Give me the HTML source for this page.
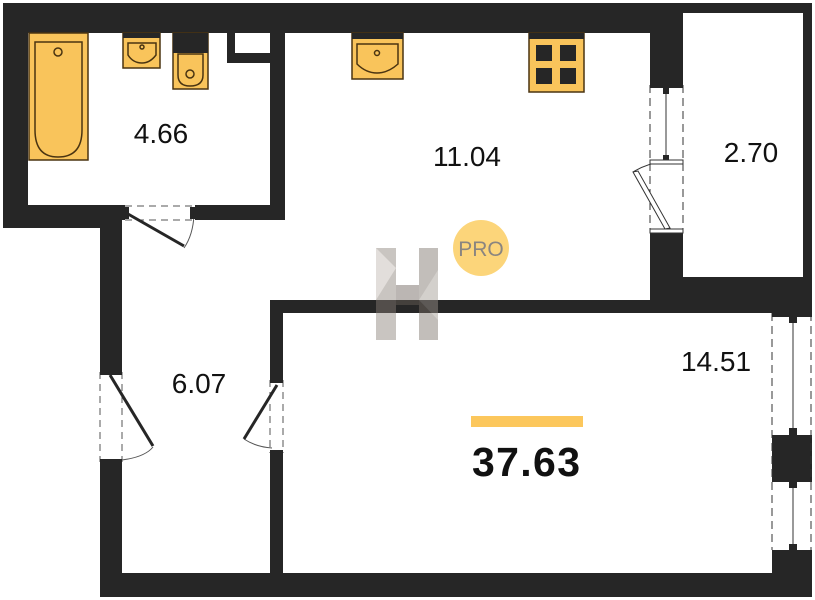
<!DOCTYPE html>
<html><head><meta charset="utf-8"><style>html,body{margin:0;padding:0;background:#fff}svg{display:block}</style></head>
<body>
<svg width="815" height="600" viewBox="0 0 815 600" xmlns="http://www.w3.org/2000/svg" font-family="Liberation Sans, sans-serif">
<rect width="815" height="600" fill="#fff"/>
<g fill="#262626">
<rect x="3" y="3" width="680" height="30"/>
<rect x="3" y="3" width="25" height="225"/>
<rect x="3" y="205" width="119" height="23"/>
<rect x="3" y="205" width="122" height="15"/>
<rect x="195" y="205" width="90" height="15"/>
<rect x="270" y="3" width="15" height="217"/>
<rect x="227" y="33" width="8" height="30"/>
<rect x="227" y="53" width="45" height="10"/>
<rect x="100" y="205" width="22" height="167"/>
<rect x="100" y="462" width="22" height="135"/>
<rect x="650" y="3" width="33" height="82"/>
<rect x="650" y="230" width="33" height="83"/>
<rect x="650" y="3" width="162" height="10"/>
<rect x="803" y="3" width="9" height="307"/>
<rect x="650" y="277" width="162" height="36"/>
<rect x="270" y="300" width="542" height="13"/>
<rect x="270" y="300" width="13" height="80"/>
<rect x="270" y="453" width="13" height="144"/>
<rect x="100" y="573" width="712" height="24"/>
<rect x="772" y="435" width="40" height="47"/>
<rect x="772" y="550" width="40" height="47"/>
</g>
<g stroke="#333" fill="none">
<line x1="772" y1="313" x2="772" y2="550" stroke-dasharray="8,5"/>
<line x1="811" y1="313" x2="811" y2="550" stroke-dasharray="8,5"/>
<line x1="793" y1="318" x2="793" y2="432"/>
<line x1="793" y1="485" x2="793" y2="546"/>
</g>
<g fill="#262626">
<rect x="772" y="313" width="40" height="4"/><rect x="789" y="317" width="8" height="6"/>
<rect x="789" y="428" width="8" height="7"/>
<rect x="789" y="482" width="8" height="6"/>
<rect x="789" y="544" width="8" height="6"/>
</g>
<g stroke="#333" fill="none">
<line x1="650" y1="85" x2="650" y2="230" stroke-dasharray="8,5"/>
<line x1="683" y1="85" x2="683" y2="230" stroke-dasharray="8,5"/>
<line x1="666" y1="90" x2="666" y2="157"/>
<path d="M633 172 Q648 163 662 162"/>
<path d="M633 172 L665 229 L670 228 L638 171 Z" fill="#fff"/>
</g>
<g fill="#262626">
<rect x="650" y="84" width="33" height="4"/><rect x="663" y="88" width="6" height="6"/>
<rect x="663" y="155" width="6" height="5"/>
<rect x="650" y="160" width="33" height="4" fill="#fff" stroke="#333"/>
<rect x="650" y="229" width="33" height="4" fill="#fff" stroke="#333"/>
</g>
<g stroke="#555" fill="none">
<line x1="125" y1="206" x2="195" y2="206" stroke-dasharray="7,5"/>
<line x1="125" y1="220" x2="195" y2="220" stroke-dasharray="7,5"/>
<path d="M184 248 Q193 235 194 215"/>
</g>
<line x1="128" y1="214" x2="184" y2="246" stroke="#262626" stroke-width="3"/>
<rect x="124" y="207" width="5" height="12" fill="#262626"/>
<rect x="190" y="207" width="5" height="12" fill="#262626"/>
<g stroke="#555" fill="none">
<line x1="100" y1="372" x2="100" y2="462" stroke-dasharray="7,5"/>
<line x1="122" y1="372" x2="122" y2="462" stroke-dasharray="7,5"/>
<path d="M122 460 Q145 457 153 447"/>
</g>
<line x1="110" y1="375" x2="153" y2="446" stroke="#262626" stroke-width="3"/>
<rect x="100" y="370" width="22" height="5" fill="#262626"/>
<rect x="100" y="459" width="22" height="5" fill="#262626"/>
<g stroke="#555" fill="none">
<line x1="270" y1="380" x2="270" y2="453" stroke-dasharray="7,5"/>
<line x1="283" y1="380" x2="283" y2="453" stroke-dasharray="7,5"/>
<path d="M244 439 Q256 447 272 448"/>
</g>
<line x1="277" y1="385" x2="244" y2="439" stroke="#262626" stroke-width="3"/>
<rect x="270" y="378" width="13" height="5" fill="#262626"/>
<rect x="270" y="450" width="13" height="5" fill="#262626"/>
<g stroke="#4a3411" stroke-width="1.5">
<rect x="29" y="33" width="59" height="127" fill="#f9c45b"/>
<path d="M35 42 H82 V130 Q82 157 58 157 Q35 157 35 130 Z" fill="#f9c45b"/>
<circle cx="58" cy="52" r="4" fill="none"/>
<rect x="123" y="33" width="37" height="35" fill="#f9c45b"/>
<path d="M128 43 H156 V55 Q150 63 142 63 Q133 63 128 55 Z" fill="none"/>
<circle cx="142" cy="47" r="2" fill="none"/>
<rect x="173" y="33" width="35" height="56" fill="#f9c45b"/>
<path d="M178 54 H203 V75 Q203 86 190 86 Q178 86 178 75 Z" fill="none"/>
<circle cx="190" cy="74" r="4" fill="none"/>
<rect x="352" y="33" width="51" height="46" fill="#f9c45b"/>
<path d="M357 44 H398 V64 Q388 73 377 73 Q366 73 357 64 Z" fill="none"/>
<circle cx="377" cy="53" r="2.5" fill="none"/>
<rect x="529" y="33" width="55" height="59" fill="#f9c45b"/>
</g>
<g fill="#262626">
<rect x="123" y="33" width="37" height="5"/>
<rect x="173" y="33" width="35" height="20"/>
<rect x="352" y="33" width="51" height="6"/>
<rect x="529" y="33" width="55" height="6"/>
<rect x="536" y="45" width="16" height="16"/><rect x="560" y="45" width="16" height="16"/>
<rect x="536" y="68" width="16" height="16"/><rect x="560" y="68" width="16" height="16"/>
</g>
<g opacity="0.45">
<rect x="376" y="248" width="20" height="92" fill="#8a8078"/>
<rect x="419" y="248" width="19" height="92" fill="#7a7068"/>
<rect x="396" y="285" width="23" height="20" fill="#6a6058"/>
<polygon points="376,248 396,268 376,300" fill="#bfb8b0"/>
<polygon points="438,270 419,300 438,320" fill="#a09890"/>
</g>
<circle cx="481" cy="248" r="28" fill="#fcd57a"/>
<text x="481" y="256" font-size="21" fill="#8a8580" text-anchor="middle">PRO</text>
<g fill="#111" font-size="28" text-anchor="middle">
<text x="161" y="143">4.66</text>
<text x="467" y="166">11.04</text>
<text x="751" y="162">2.70</text>
<text x="199" y="393">6.07</text>
<text x="716" y="371">14.51</text>
</g>
<rect x="471" y="416" width="112" height="11" fill="#fcc75c"/>
<text x="526" y="476" font-size="41" font-weight="bold" fill="#111" text-anchor="middle" textLength="108">37.63</text>
</svg>
</body></html>
